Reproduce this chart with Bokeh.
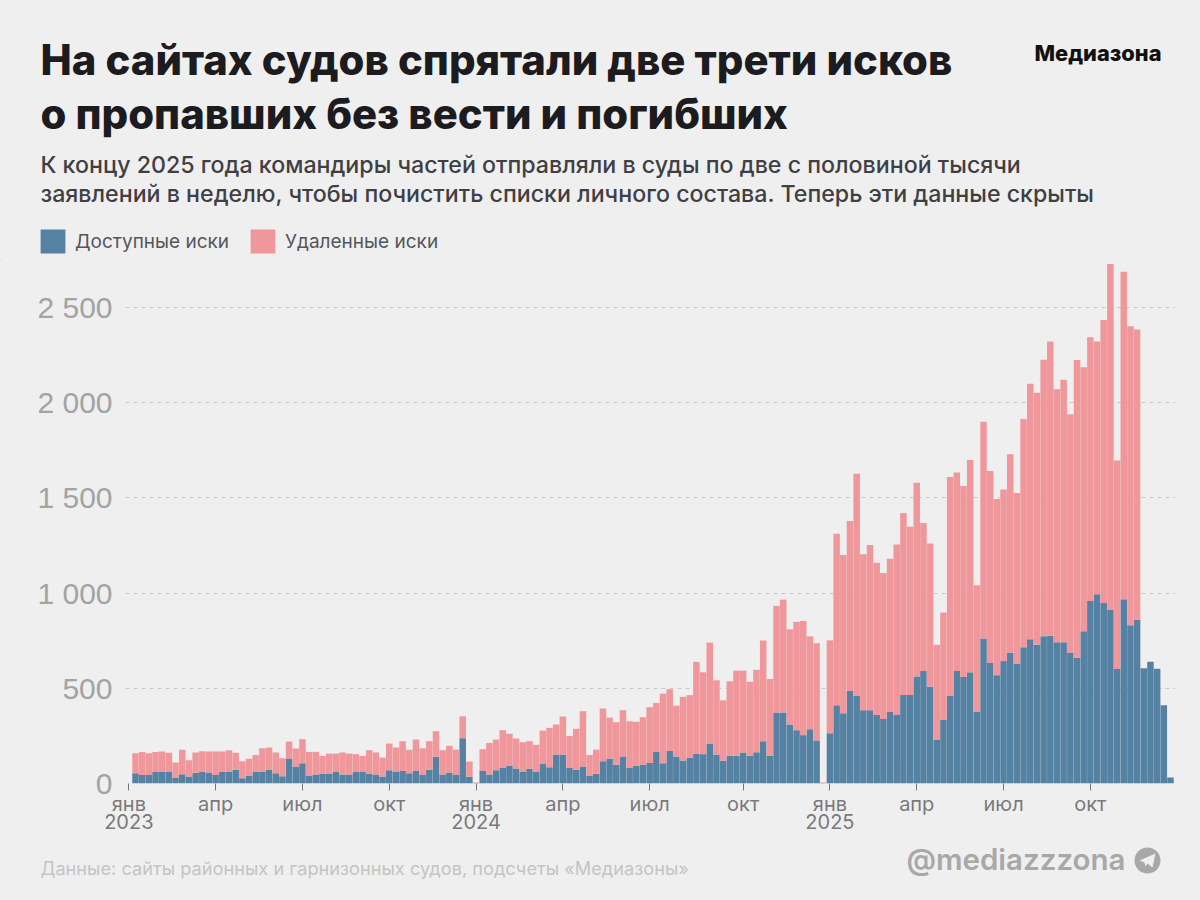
from bokeh.plotting import figure
from bokeh.models import (ColumnDataSource, FixedTicker, Label, Legend, LegendItem,
                          LinearAxis, Range1d, BoxAnnotation, PolyAnnotation)
from bokeh.embed import file_html
from bokeh.resources import INLINE

# --- data -------------------------------------------------------------
title_lines = ["На сайтах судов спрятали две трети исков", "о пропавших без вести и погибших"]
subtitle_lines = ["К концу 2025 года командиры частей отправляли в суды по две с половиной тысячи",
                  "заявлений в неделю, чтобы почистить списки личного состава. Теперь эти данные скрыты"]
series_names = ["Доступные иски", "Удаленные иски"]
source_text = "Данные: сайты районных и гарнизонных судов, подсчеты «Медиазоны»"

total = [
    159,166,159,166,168,161,110,177,122,163,170,168,168,168,175,161,117,130,150,185,189,163,133,220,184,233,
    166,166,145,157,157,163,157,154,145,175,163,136,210,189,222,177,231,185,222,275,175,198,178,353,115,5,
    180,213,231,280,261,236,217,222,203,278,292,310,352,250,287,380,150,178,394,346,322,385,327,324,348,401,
    423,472,495,409,455,464,639,584,740,542,437,537,593,593,534,597,751,549,933,966,810,849,854,773,737,5,
    752,1312,1200,1379,1627,1204,1253,1160,1106,1181,1255,1421,1349,1580,1368,1260,728,898,1610,1633,1563,1699,1041,1900,
    1641,1494,1544,1729,1526,1915,2100,2053,2226,2322,2071,2121,1939,2224,2186,2344,2322,2434,2728,1696,2688,2402,2384,
    605,639,603,411,31,
]
available = [
    54,45,44,61,63,60,32,49,37,56,61,58,44,61,61,72,28,40,61,61,72,54,38,131,89,107,
    42,47,52,52,60,47,47,60,60,52,47,37,70,61,66,54,68,47,72,140,47,58,45,238,35,3,
    66,47,70,82,94,79,61,77,63,105,86,152,152,82,72,89,42,51,117,131,98,142,82,93,100,108,
    166,107,171,142,121,135,156,154,210,152,119,145,145,163,145,164,222,145,373,373,310,280,254,285,226,2,
    264,411,369,486,462,385,385,360,339,376,360,465,465,562,591,509,231,334,460,591,560,584,378,761,
    633,569,643,688,628,715,758,729,773,776,742,742,686,661,800,959,994,948,914,601,968,831,860,
    605,639,603,411,31,
]
removed = [t - a for t, a in zip(total, available)]
week = list(range(len(total)))

y_ticks = [0, 500, 1000, 1500, 2000, 2500]
y_labels = {0: "0", 500: "500", 1000: "1 000", 1500: "1 500", 2000: "2 000", 2500: "2 500"}
x_ticks = [-1, 12, 25, 38, 51, 64, 77, 91, 104, 117, 130, 143]
x_labels = ["янв\n2023", "апр", "июл", "окт", "янв\n2024", "апр", "июл", "окт", "янв\n2025", "апр", "июл", "окт"]

BG = "#efefef"
BLUE = "#5581a3"
PINK = "#ef979a"
W = 1200
HEAD_H, MAIN_H, FOOT_H = 260, 583, 57
LEFT, BOTTOM = 125, 783
HEAVY = '"Inter ExtraBold", "Inter"'
MEDIUM = '"Inter Medium", "Inter"'
SEMI = '"Inter SemiBold", "Inter"'


def band(height):
    return figure(width=W, height=height, output_backend="svg", toolbar_location=None,
                  x_range=Range1d(0, W), y_range=Range1d(0, height),
                  x_axis_location=None, y_axis_location=None,
                  min_border=0, background_fill_color=BG, border_fill_color=BG, outline_line_color=None)


head = band(HEAD_H)
head.grid.visible = False
foot = band(FOOT_H)
foot.grid.visible = False


def text(fig, t, x, y, size, color, font="Inter", style="normal", align="left"):
    top = 0 if fig is head else HEAD_H + MAIN_H
    fig.add_layout(Label(x=x, y=fig.height - (y - top), x_units="screen", y_units="screen", text=t,
                         text_font=font, text_font_size=size, text_color=color, text_font_style=style,
                         text_align=align, text_baseline="alphabetic"))


text(head, title_lines[0], 40, 59.5, "41.8px", "#1b1b20", font=HEAVY, style="bold")
text(head, title_lines[1], 40, 113, "41.8px", "#1b1b20", font=HEAVY, style="bold")
text(head, subtitle_lines[0], 40, 164, "23.2px", "#3f3f44", font=MEDIUM)
text(head, subtitle_lines[1], 40, 193, "23.2px", "#3f3f44", font=MEDIUM)
text(head, "Медиазона", 1161, 52, "21.8px", "#111111", font=HEAVY, style="bold", align="right")
text(foot, source_text, 40, 867, "18.2px", "#c4c4c4")
text(foot, "@mediazzzona", 1125, 858, "29.5px", "#a8a8a8", font=SEMI, align="right")

key_src = ColumnDataSource(dict(x=[-10], a=[1], b=[1]))
key = head.vbar_stack(["a", "b"], x="x", width=1, source=key_src, color=[BLUE, PINK], line_color=None)
legend = Legend(items=[LegendItem(label=series_names[0], renderers=[key[0]]),
                       LegendItem(label=series_names[1], renderers=[key[1]])],
                orientation="horizontal", location=(37, HEAD_H - 256),
                glyph_width=31, glyph_height=30, label_standoff=7, spacing=18, margin=0, padding=0,
                background_fill_alpha=0, border_line_color=None,
                label_text_font="Inter", label_text_font_size="19px", label_text_color="#55555a")
head.add_layout(legend, "center")

fy = lambda y: FOOT_H - (y - (HEAD_H + MAIN_H))
foot.add_layout(BoxAnnotation(left=1134, right=1160, top=fy(847), bottom=fy(873),
                              left_units="screen", right_units="screen", top_units="screen", bottom_units="screen",
                              fill_color="#a8a8a8", fill_alpha=1, line_color=None, border_radius=13))
foot.add_layout(PolyAnnotation(xs=[1139, 1155, 1152, 1147, 1145, 1144],
                               ys=[fy(v) for v in [860, 853, 867, 863, 866, 862]],
                               xs_units="screen", ys_units="screen",
                               fill_color=BG, fill_alpha=1, line_color=None))

p = figure(width=W, height=MAIN_H, output_backend="svg", toolbar_location=None,
           x_range=Range1d(-1.5, 155.75), y_range=Range1d(0, 2747),
           x_axis_location=None, y_axis_location=None,
           min_border_left=LEFT, min_border_right=25, min_border_top=0,
           min_border_bottom=HEAD_H + MAIN_H - BOTTOM,
           background_fill_color=BG, border_fill_color=BG, outline_line_color=None)

p.xgrid.visible = False
p.ygrid.grid_line_color = "#c9c9c9"
p.ygrid.grid_line_dash = "4 4"
p.ygrid.grid_line_width = 1
p.ygrid.ticker = FixedTicker(ticks=y_ticks[1:])

src = ColumnDataSource(dict(week=week, available=available, removed=removed))
p.vbar_stack(["available", "removed"], x="week", width=0.975, source=src,
             color=[BLUE, PINK], line_color=None)

yaxis = LinearAxis(ticker=FixedTicker(ticks=y_ticks), major_label_overrides=y_labels,
                   axis_line_color=None, major_tick_line_color=None, minor_tick_line_color=None,
                   major_label_text_font="Liberation Sans", major_label_text_font_size="30px",
                   major_label_text_color="#a3a3a3", major_label_standoff=7)
p.add_layout(yaxis, "left")

xaxis = LinearAxis(ticker=FixedTicker(ticks=x_ticks),
                   major_label_overrides=dict(zip(x_ticks, x_labels)),
                   axis_line_color=None, major_tick_line_color="#777777", major_tick_line_width=1,
                   major_tick_in=0, major_tick_out=7, minor_tick_line_color=None,
                   major_label_text_font="Inter", major_label_text_font_size="20px",
                   major_label_text_line_height=0.75,
                   major_label_text_color="#7a7a7a", major_label_standoff=1)
p.add_layout(xaxis, "below")

template = """{% block preamble %}<style>html,body{margin:0;padding:0;background:#efefef;overflow:hidden}
body{display:flex;flex-direction:column;align-items:flex-start}</style>{% endblock %}
"""
open("out.html", "w").write(file_html([head, p, foot], INLINE, template=template))
